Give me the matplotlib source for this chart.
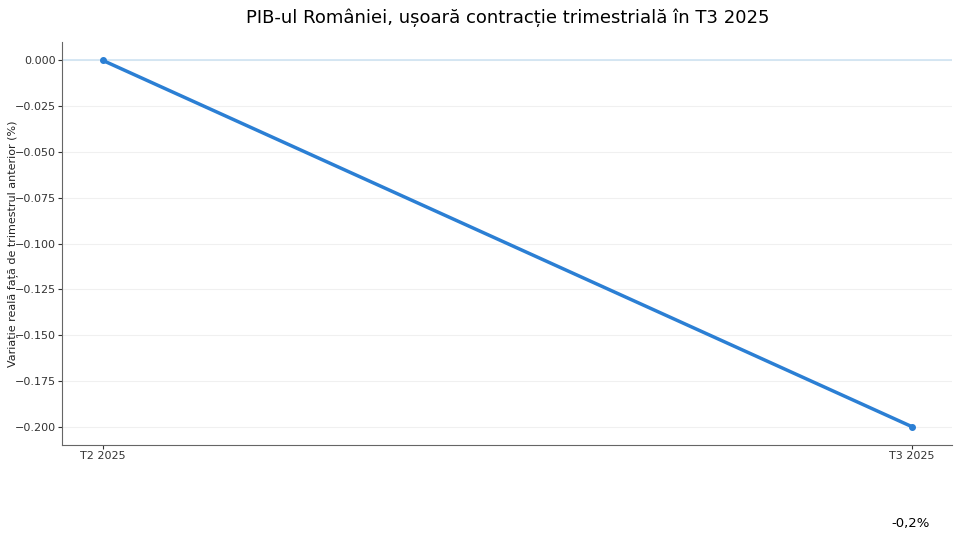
import matplotlib.pyplot as plt

# Data
quarters = ['T2 2025', 'T3 2025']
values = [0.0, -0.2]
note = '-0,2%'

fig, ax = plt.subplots(figsize=(9.6, 5.4), dpi=100)

x = list(range(len(quarters)))
ax.axhline(0, color='#cfe3f2', linewidth=1.2, zorder=1)
ax.plot(x, values, color='#2b7fd4', linewidth=2.5, marker='o', markersize=4, zorder=3)

ax.set_xticks(x)
ax.set_xticklabels(quarters)
ax.tick_params(labelsize=8, colors='#333333', pad=1.5, length=3)
ax.grid(axis='y', color='#f0f0f0', linewidth=0.8)
ax.set_axisbelow(True)
for s in ['top', 'right']:
    ax.spines[s].set_visible(False)
for s in ['left', 'bottom']:
    ax.spines[s].set_color('#666666')

ax.set_ylabel('Variație reală față de trimestrul anterior (%)', fontsize=8, color='#222222')
ax.yaxis.set_label_coords(-0.05, 0.5)
ax.set_title('PIB-ul României, ușoară contracție trimestrială în T3 2025', fontsize=13, pad=14)

fig.text(0.969, 0.018, note, ha='right', va='bottom', fontsize=9.5)

fig.subplots_adjust(left=0.065, right=0.992, top=0.922, bottom=0.176)
fig.savefig('out.png', dpi=100)
